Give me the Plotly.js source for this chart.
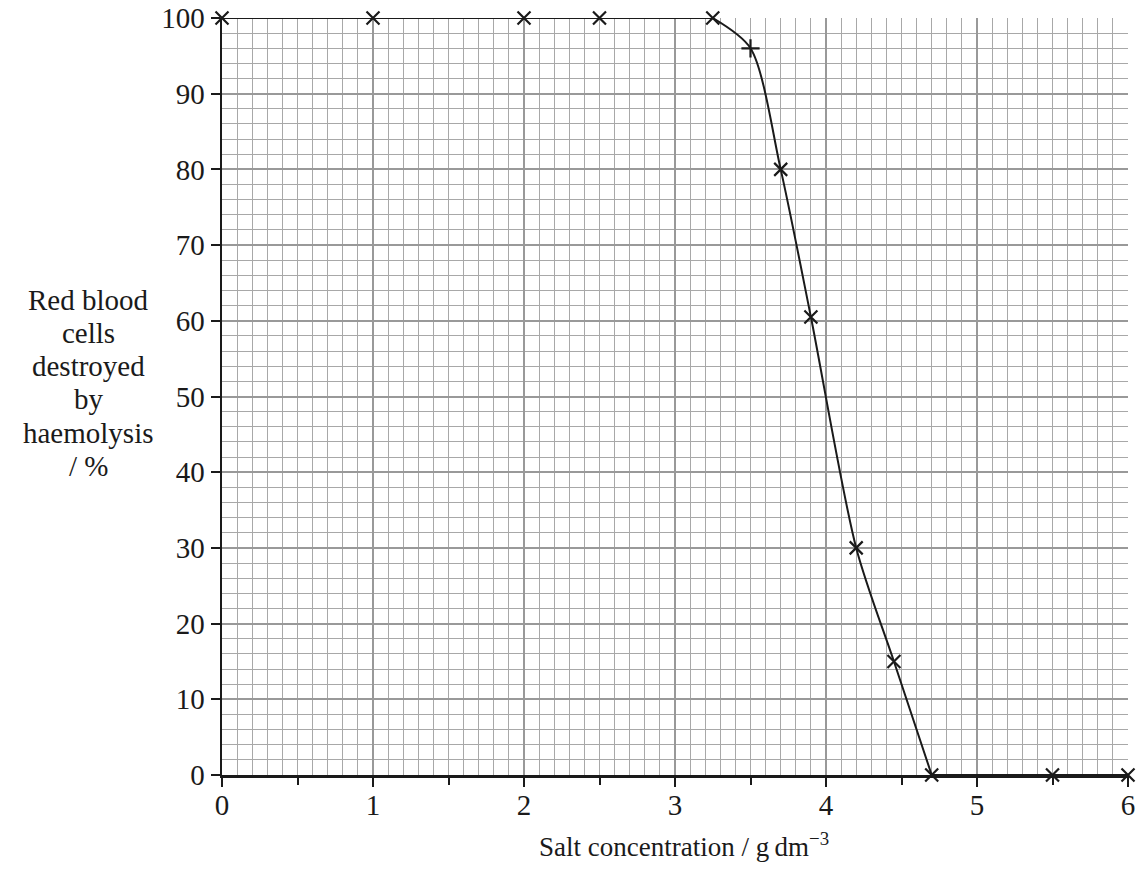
<!DOCTYPE html>
<html>
<head>
<meta charset="utf-8">
<script src="https://cdn.plot.ly/plotly-3.0.1.min.js"></script>
<style>html,body{margin:0;padding:0;background:#fff;}#chart{width:1140px;height:872px;}</style>
</head>
<body>
<div id="chart"></div>
<script>
// Salt concentration / g dm^-3
var saltConc = [0, 1, 2, 2.5, 3.25, 3.5, 3.7, 3.9, 4.2, 4.45, 4.7, 5.5, 6];
// Red blood cells destroyed by haemolysis / %
var destroyed = [100, 100, 100, 100, 100, 96, 80, 60.5, 30, 15, 0, 0, 0];
var pointSymbols = ['x-thin','x-thin','x-thin','x-thin','x-thin','cross-thin','x-thin','x-thin','x-thin','x-thin','x-thin','x-thin','x-thin'];
var xTickVals = [0, 1, 2, 3, 4, 5, 6];
var yTickVals = [0, 10, 20, 30, 40, 50, 60, 70, 80, 90, 100];
var yTitleLines = ['Red blood', 'cells', 'destroyed', 'by', 'haemolysis', '/ %'];
var xTitle = 'Salt concentration / g\u2009dm<sup>\u22123</sup>';

// line pieces: flat top, smooth fall, flat bottom
var iTopEnd = 4, iFallEnd = 10;
var ink = '#1a1a1a';
var traces = [
  {x: saltConc.slice(0, iTopEnd + 1), y: destroyed.slice(0, iTopEnd + 1), mode: 'lines', line: {color: ink, width: 2}, hoverinfo: 'skip', showlegend: false},
  {x: saltConc.slice(iTopEnd, iFallEnd + 1), y: destroyed.slice(iTopEnd, iFallEnd + 1), mode: 'lines', line: {color: ink, width: 2, shape: 'spline', smoothing: 0.8}, hoverinfo: 'skip', showlegend: false},
  {x: saltConc.slice(iFallEnd), y: destroyed.slice(iFallEnd), mode: 'lines', line: {color: ink, width: 2}, hoverinfo: 'skip', showlegend: false},
  {x: saltConc, y: destroyed, mode: 'markers', marker: {symbol: pointSymbols, size: 13, color: ink, line: {color: ink, width: 2.2}}, cliponaxis: false, showlegend: false},
  // half-unit ticks on x axis
  {x: [0], y: [0], xaxis: 'x2', mode: 'markers', marker: {opacity: 0}, hoverinfo: 'skip', showlegend: false}
];

var fontFam = 'Liberation Serif, Times New Roman, serif';
var lineGap = 33.2;
var annots = yTitleLines.map(function (t, i) {
  return {
    xref: 'paper', yref: 'paper', x: -0.147, y: 0.518, xanchor: 'center', yanchor: 'middle',
    yshift: ((yTitleLines.length - 1) / 2 - i) * lineGap,
    text: t, showarrow: false, align: 'center', borderpad: 0,
    font: {size: 29, family: fontFam, color: ink}
  };
});
annots.push({
  xref: 'paper', yref: 'paper', x: 0.5, y: -0.093, xanchor: 'center', yanchor: 'middle', xshift: 9,
  text: xTitle, showarrow: false, font: {size: 27, family: fontFam, color: ink}
});

var layout = {
  width: 1140, height: 872,
  margin: {l: 222, r: 12, t: 18, b: 97},
  paper_bgcolor: '#fff', plot_bgcolor: '#fff',
  font: {family: fontFam, color: ink, size: 28},
  xaxis: {
    range: [0, 6], tickvals: xTickVals, ticks: 'outside', ticklen: 9, tickwidth: 2, tickcolor: ink,
    ticklabelstandoff: -6,
    showgrid: true, gridcolor: '#999999', gridwidth: 2,
    minor: {dtick: 0.1, showgrid: true, gridcolor: '#a8a8a8', gridwidth: 1, ticks: ''},
    showline: true, linecolor: ink, linewidth: 2.5, zeroline: false,
    tickfont: {size: 29, family: fontFam, color: ink}
  },
  xaxis2: {
    overlaying: 'x', matches: 'x', anchor: 'y', side: 'bottom', range: [0, 6], dtick: 0.5, tick0: 0,
    ticks: 'outside', ticklen: 9, tickwidth: 2, tickcolor: ink, showticklabels: false, showgrid: false, zeroline: false, showline: false
  },
  yaxis: {
    range: [0, 100], tickvals: yTickVals, ticks: 'outside', ticklen: 9, tickwidth: 2, tickcolor: ink,
    showgrid: true, gridcolor: '#999999', gridwidth: 2,
    minor: {dtick: 2, showgrid: true, gridcolor: '#a8a8a8', gridwidth: 1, ticks: ''},
    showline: true, linecolor: ink, linewidth: 2.5, zeroline: false,
    tickfont: {size: 29, family: fontFam, color: ink}
  },
  annotations: annots
};

Plotly.newPlot('chart', traces, layout, {displayModeBar: false, staticPlot: true});
</script>
</body>
</html>
